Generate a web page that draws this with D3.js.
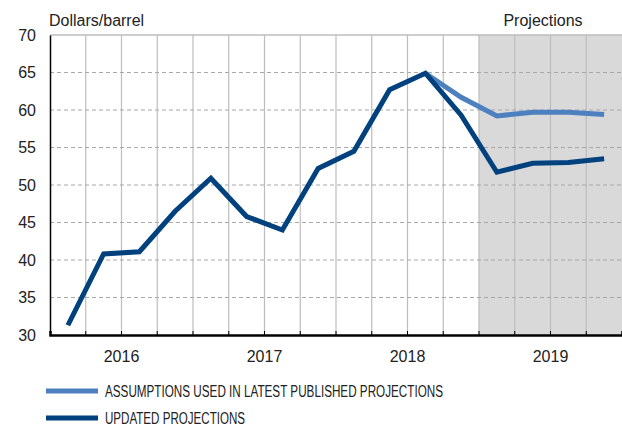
<!DOCTYPE html>
<html>
<head>
<meta charset="utf-8">
<script src="https://cdn.jsdelivr.net/npm/d3@7"></script>
<style>
  body { margin: 0; background: #fff; }
  text { font-family: "Liberation Sans", Arial, Helvetica, sans-serif; fill: #222; }
</style>
</head>
<body>
<script>
// quarters shown on the x-axis
var quarters = ["2016Q1", "2016Q2", "2016Q3", "2016Q4",
                "2017Q1", "2017Q2", "2017Q3", "2017Q4",
                "2018Q1", "2018Q2", "2018Q3", "2018Q4",
                "2019Q1", "2019Q2", "2019Q3", "2019Q4"];
var years = ["2016", "2017", "2018", "2019"];

// updated projections (whole period)
var updated = [31.3, 40.8, 41.1, 46.5, 50.9, 45.8, 44.0, 52.2,
               54.5, 62.7, 64.9, 59.3, 51.7, 52.9, 53.0, 53.5];

// assumptions used in latest published projections (from 2018Q3)
var assumQuarters = ["2018Q3", "2018Q4", "2019Q1", "2019Q2", "2019Q3", "2019Q4"];
var assumptions = [64.9, 61.7, 59.2, 59.7, 59.7, 59.4];

var yTicks = [30, 35, 40, 45, 50, 55, 60, 65, 70];
var projStart = "2019Q1";

var w = 622;
var h = 426;
const margin = {top: 35, bottom: 91, right: 0, left: 50};

var darkBlue = "#00417e";
var lightBlue = "#4d80bf";

var svg = d3.select("body")
            .append("svg")
            .attr("width", w)
            .attr("height", h);

var xScale = d3.scaleBand()
               .domain(quarters)
               .range([margin.left, w - margin.right]);

var yScale = d3.scaleLinear()
               .domain([30, 70])
               .range([h - margin.bottom, margin.top]);

// projection shading
svg.append("rect")
   .attr("x", xScale(projStart))
   .attr("y", margin.top)
   .attr("width", w - margin.right - xScale(projStart))
   .attr("height", yScale(30) - yScale(70))
   .attr("fill", "#d9d9d9");

// vertical grid lines at quarter boundaries
svg.selectAll(".vgrid")
   .data(quarters.slice(1))
   .enter()
   .append("line")
   .attr("x1", function(d) { return xScale(d); })
   .attr("x2", function(d) { return xScale(d); })
   .attr("y1", yScale(70))
   .attr("y2", yScale(30))
   .attr("stroke", "#bdbdbd")
   .attr("stroke-width", 1.2);

// horizontal dashed grid lines
svg.selectAll(".hgrid")
   .data(yTicks.filter(function(d) { return d > 30 && d < 70; }))
   .enter()
   .append("line")
   .attr("x1", margin.left)
   .attr("x2", w - margin.right)
   .attr("y1", function(d) { return yScale(d); })
   .attr("y2", function(d) { return yScale(d); })
   .attr("stroke", "#a8a8a8")
   .attr("stroke-dasharray", "4,3");

// top border
svg.append("line")
   .attr("x1", margin.left)
   .attr("x2", w - margin.right)
   .attr("y1", yScale(70))
   .attr("y2", yScale(70))
   .attr("stroke", "#bdbdbd")
   .attr("stroke-width", 1.5);

// y axis
const yAxis = d3.axisLeft(yScale)
                .tickValues(yTicks)
                .tickSize(0)
                .tickPadding(14);

var gy = svg.append("g")
   .attr("transform", "translate(" + margin.left + ",0)")
   .call(yAxis);
gy.select(".domain").attr("stroke", "#000").attr("stroke-width", 1.5);
gy.selectAll("text")
  .attr("font-size", "16px")
  .attr("font-family", "Liberation Sans, Arial, sans-serif")
  .attr("fill", "#222");

// x axis (quarter ticks pointing up)
const xAxis = d3.axisBottom(xScale)
                .tickValues(quarters.slice(1))
                .tickSize(-4)
                .tickFormat("");

var gx = svg.append("g")
   .attr("transform", "translate(0," + yScale(30) + ")")
   .call(xAxis);
gx.selectAll(".tick").attr("transform", function(d) { return "translate(" + xScale(d) + ",0)"; });
gx.select(".domain").attr("stroke", "#000").attr("stroke-width", 2.5);
gx.selectAll(".tick line").attr("stroke", "#000");

// year labels
svg.selectAll(".year")
   .data(years)
   .enter()
   .append("text")
   .attr("x", function(d) { return xScale(d + "Q2") + xScale.bandwidth(); })
   .attr("y", yScale(30) + 27)
   .attr("text-anchor", "middle")
   .attr("font-size", "16px")
   .text(function(d) { return d; });

// lines
var line = d3.line()
             .x(function(d) { return xScale(d.q) + xScale.bandwidth() / 2; })
             .y(function(d) { return yScale(d.v); });

var assumData = assumQuarters.map(function(q, i) { return {q: q, v: assumptions[i]}; });
var updData = quarters.map(function(q, i) { return {q: q, v: updated[i]}; });

svg.append("path")
   .datum(assumData)
   .attr("d", line)
   .attr("fill", "none")
   .attr("stroke", lightBlue)
   .attr("stroke-width", 5);

svg.append("path")
   .datum(updData)
   .attr("d", line)
   .attr("fill", "none")
   .attr("stroke", darkBlue)
   .attr("stroke-width", 5);

// labels above plot
svg.append("text")
   .attr("x", 49)
   .attr("y", 26)
   .attr("font-size", "16px")
   .text("Dollars/barrel");

svg.append("text")
   .attr("x", 543)
   .attr("y", 26)
   .attr("text-anchor", "middle")
   .attr("font-size", "16px")
   .text("Projections");

// legend
var legend = [
  {label: "ASSUMPTIONS USED IN LATEST PUBLISHED PROJECTIONS", color: lightBlue, len: 338},
  {label: "UPDATED PROJECTIONS", color: darkBlue, len: 140}
];

var lg = svg.selectAll(".legend")
            .data(legend)
            .enter()
            .append("g")
            .attr("transform", function(d, i) { return "translate(46," + (391 + i * 27) + ")"; });

lg.append("line")
  .attr("x1", 0)
  .attr("x2", 52)
  .attr("stroke", function(d) { return d.color; })
  .attr("stroke-width", 5);

lg.append("text")
  .attr("x", 59)
  .attr("y", 6)
  .attr("font-size", "16px")
  .attr("font-family", "Liberation Sans Narrow, Arial Narrow, Liberation Sans, sans-serif")
  .attr("textLength", function(d) { return d.len; })
  .attr("lengthAdjust", "spacingAndGlyphs")
  .text(function(d) { return d.label; });
</script>
</body>
</html>
